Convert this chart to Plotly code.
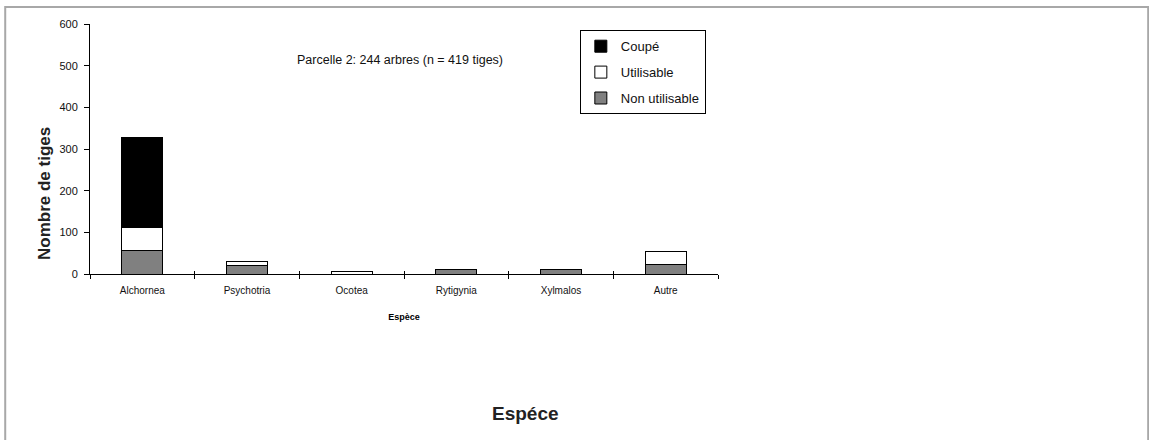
import plotly.graph_objects as go

# Stem counts per species, split by condition
especes = ["Alchornea", "Psychotria", "Ocotea", "Rytigynia", "Xylmalos", "Autre"]
non_utilisable = [56, 21, 0, 10, 10, 24]
utilisable = [55, 8, 7, 0, 0, 29]
coupe = [216, 0, 0, 0, 0, 0]
y_ticks = [0, 100, 200, 300, 400, 500, 600]

FONT = "Liberation Sans, Arial, sans-serif"

fig = go.Figure()
# stacked from the bottom up; legend lists them top-down via legendrank
series = [
    ("Non utilisable", non_utilisable, "#808080", 3),
    ("Utilisable", utilisable, "#ffffff", 2),
    ("Coupé", coupe, "#000000", 1),
]
for name, vals, col, rank in series:
    fig.add_trace(go.Bar(
        x=especes, y=vals, name=name, width=0.39,
        legendgroup=name, legendrank=rank,
        marker=dict(color=col, line=dict(color="#000000", width=1)),
    ))

# invisible trace that carries the inward half of the category ticks
fig.add_trace(go.Bar(x=especes, y=[0] * len(especes), xaxis="x2",
                     showlegend=False, hoverinfo="skip",
                     marker=dict(color="rgba(0,0,0,0)")))

fig.update_layout(
    width=1149, height=440,
    margin=dict(l=90, r=431, t=24, b=166),
    paper_bgcolor="white", plot_bgcolor="white",
    barmode="stack",
    font=dict(family=FONT, color="#000000"),
    showlegend=True,
    legend=dict(
        x=0.780, y=0.975, xanchor="left", yanchor="top",
        traceorder="grouped",
        bordercolor="#000000", borderwidth=1,
        bgcolor="white",
        font=dict(size=13, family=FONT, color="#111111"),
        itemwidth=30, tracegroupgap=6,
    ),
    xaxis=dict(
        showline=True, linecolor="#000000", linewidth=1,
        ticks="outside", ticklen=4, tickcolor="#000000",
        tickson="boundaries", showgrid=False, zeroline=False,
        tickfont=dict(size=10, family=FONT, color="#111111"),
        ticklabelstandoff=7,
        title=dict(text="<b>Espèce</b>", font=dict(size=9, family=FONT), standoff=18),
    ),
    xaxis2=dict(
        overlaying="x", matches="x", side="bottom",
        showline=False, ticks="inside", ticklen=3, tickcolor="#000000",
        tickson="boundaries", showticklabels=False, showgrid=False, zeroline=False,
    ),
    yaxis=dict(
        range=[0, 600], tickvals=y_ticks,
        showline=True, linecolor="#000000", linewidth=1,
        ticks="outside", ticklen=5, tickcolor="#000000",
        showgrid=False, zeroline=False,
        tickfont=dict(size=11, family=FONT, color="#111111"),
        ticklabelstandoff=4,
    ),
    annotations=[
        dict(text="Parcelle 2: 244 arbres (n = 419 tiges)", x=0.494, y=0.856,
             xref="paper", yref="paper", showarrow=False,
             xanchor="center", yanchor="middle",
             font=dict(size=12.5, family=FONT, color="#111111")),
        dict(text="<b>Nombre de tiges</b>", x=-0.0717, y=0.324,
             xref="paper", yref="paper", showarrow=False, textangle=-90,
             xanchor="center", yanchor="middle",
             font=dict(size=17, family=FONT, color="#222222")),
        dict(text="<b>Espéce</b>", x=0.694, y=-0.556,
             xref="paper", yref="paper", showarrow=False,
             xanchor="center", yanchor="middle",
             font=dict(size=19, family=FONT, color="#222222")),
    ],
    shapes=[
        dict(type="rect", xref="paper", yref="paper",
             x0=-0.135, x1=1.685, y0=-0.70, y1=1.068,
             line=dict(color="#a8a8a8", width=2), layer="below"),
    ],
)

fig.write_html("out.html")
